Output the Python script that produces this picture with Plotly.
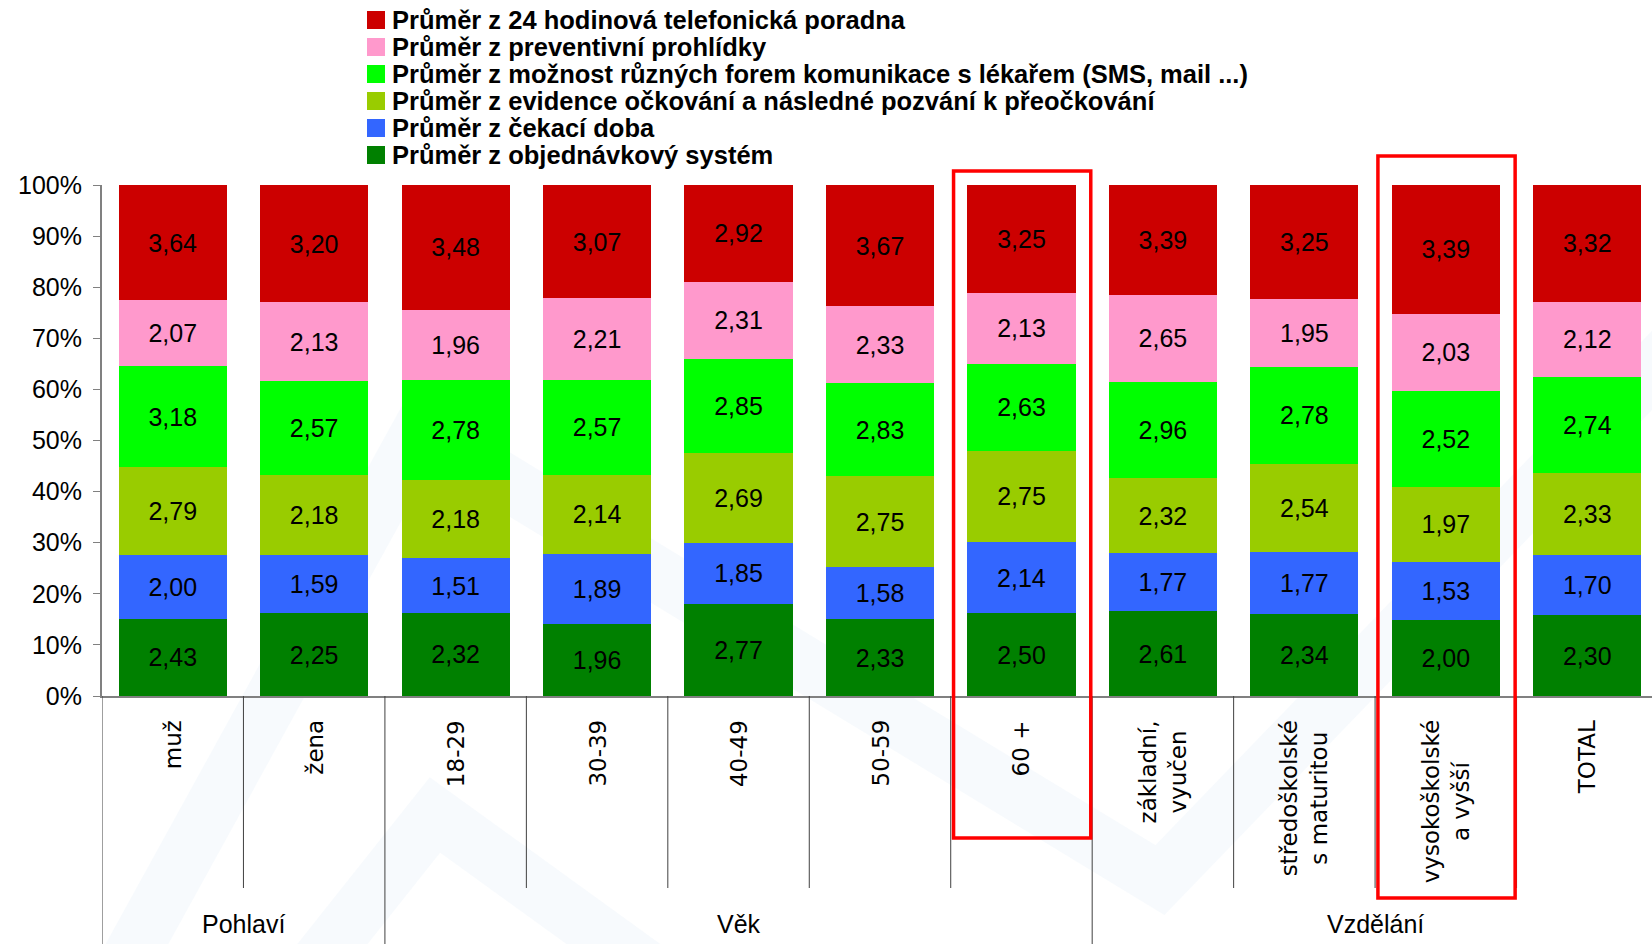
import plotly.graph_objects as go

# ---------------- data ----------------
categories = ["muž", "žena", "18-29", "30-39", "40-49", "50-59", "60 +",
              "základní,<br>vyučen", "středoškolské<br>s maturitou",
              "vysokoškolské<br>a vyšší", "TOTAL"]
groups = ["Pohlaví", "Věk", "Vzdělání"]
group_sizes = [2, 5, 4]

series_names = [
    "Průměr z objednávkový systém",
    "Průměr z čekací doba",
    "Průměr z evidence očkování a následné pozvání k přeočkování",
    "Průměr z možnost různých forem komunikace s lékařem (SMS, mail ...)",
    "Průměr z preventivní prohlídky",
    "Průměr z 24 hodinová telefonická poradna",
]
objednavkovy_system = [2.43, 2.25, 2.32, 1.96, 2.77, 2.33, 2.50, 2.61, 2.34, 2.00, 2.30]
cekaci_doba = [2.00, 1.59, 1.51, 1.89, 1.85, 1.58, 2.14, 1.77, 1.77, 1.53, 1.70]
evidence_ockovani = [2.79, 2.18, 2.18, 2.14, 2.69, 2.75, 2.75, 2.32, 2.54, 1.97, 2.33]
formy_komunikace = [3.18, 2.57, 2.78, 2.57, 2.85, 2.83, 2.63, 2.96, 2.78, 2.52, 2.74]
preventivni_prohlidky = [2.07, 2.13, 1.96, 2.21, 2.31, 2.33, 2.13, 2.65, 1.95, 2.03, 2.12]
telefonicka_poradna = [3.64, 3.20, 3.48, 3.07, 2.92, 3.67, 3.25, 3.39, 3.25, 3.39, 3.32]
series_values = [objednavkovy_system, cekaci_doba, evidence_ockovani,
                 formy_komunikace, preventivni_prohlidky, telefonicka_poradna]
colors = ["#008000", "#3366FF", "#99CC00", "#00FF00", "#FF99CC", "#CC0000"]

y_ticks = list(range(0, 101, 10))
highlighted = ["60 +", "vysokoškolské<br>a vyšší"]

# ---------------- geometry ----------------
W, H = 1658, 944
L, R, T, B = 102, 0, 185, 248
PW, PH = W - L - R, H - T - B


def px(xp):
    return (xp - L) / PW


def py(yp):
    return (H - B - yp) / PH


FONT = "Liberation Sans, Arial, sans-serif"

fig = go.Figure()
for name, vals, col in zip(series_names, series_values, colors):
    fig.add_trace(go.Bar(
        x=categories, y=vals, name=name,
        marker=dict(color=col, line=dict(width=0)),
        text=[f"{v:.2f}".replace(".", ",") for v in vals],
        textposition="inside", insidetextanchor="middle",
        constraintext="none",
        textfont=dict(family=FONT, size=25, color="black"),
        hoverinfo="skip", showlegend=False,
    ))

shapes = []
annotations = []

# faint watermark
wm = "rgba(228,237,248,0.28)"
for pts in [[(40, 1120), (420, 430), (1160, 880), (1720, 300)],
            [(280, 1010), (435, 815), (760, 1050)]]:
    path = "M " + " L ".join(f"{px(a):.4f},{py(b):.4f}" for a, b in pts)
    shapes.append(dict(type="path", path=path, xref="paper", yref="paper",
                       line=dict(color=wm, width=55), layer="below"))

# category / group separators below the axis
n = len(categories)
group_bounds = [-0.5]
acc = -0.5
for s in group_sizes:
    acc += s
    group_bounds.append(acc)
for i in range(n):
    b = i - 0.5
    if b in group_bounds:
        y0 = py(H)
    else:
        y0 = py(888)
    shapes.append(dict(type="line", xref="x", yref="paper", x0=b, x1=b,
                       y0=y0, y1=0, line=dict(color="#404040", width=1)))

# red highlight rectangles
rect_y = {"60 +": (838, 171), "vysokoškolské<br>a vyšší": (898, 156)}
for c in highlighted:
    i = categories.index(c)
    yb, yt = rect_y[c]
    shapes.append(dict(type="rect", xref="x", yref="paper",
                       x0=i - 0.48, x1=i + 0.49, y0=py(yb), y1=py(yt),
                       line=dict(color="#FF0000", width=3.5),
                       fillcolor="rgba(0,0,0,0)", layer="above"))

# category labels (rotated)
for c in categories:
    annotations.append(dict(x=c, xref="x", y=py(718), yref="paper",
                            text=c, textangle=-90, showarrow=False,
                            xanchor="center", yanchor="top", align="center",
                            font=dict(family="DejaVu Sans, sans-serif", size=23,
                                      color="black")))

# group labels
start = 0
for g, s in zip(groups, group_sizes):
    center = start + (s - 1) / 2
    annotations.append(dict(x=center, xref="x", y=py(924), yref="paper",
                            text=g, showarrow=False, xanchor="center",
                            yanchor="middle",
                            font=dict(family=FONT, size=25, color="black")))
    start += s

# manual legend (top item = last series)
for k, (name, col) in enumerate(zip(reversed(series_names), reversed(colors))):
    yc = 20 + k * 27
    shapes.append(dict(type="rect", xref="paper", yref="paper",
                       x0=px(367), x1=px(385), y0=py(yc + 9), y1=py(yc - 9),
                       fillcolor=col, line=dict(width=0)))
    annotations.append(dict(x=px(390), xref="paper", y=py(yc), yref="paper",
                            text=f"<b>{name}</b>", showarrow=False,
                            xanchor="left", yanchor="middle",
                            font=dict(family=FONT, size=25.5, color="black")))

fig.update_layout(
    width=W, height=H,
    margin=dict(l=L, r=R, t=T, b=B, pad=0),
    barmode="stack", barnorm="percent", bargap=0.235,
    paper_bgcolor="white", plot_bgcolor="rgba(0,0,0,0)",
    showlegend=False,
    shapes=shapes, annotations=annotations,
    xaxis=dict(showticklabels=False, ticks="", showgrid=False,
               showline=True, linecolor="#808080", linewidth=2,
               range=[-0.5, n - 0.5], zeroline=False, fixedrange=True),
    yaxis=dict(range=[0, 100], tickvals=y_ticks,
               ticktext=[f"{v}%" for v in y_ticks],
               ticks="outside", ticklen=7, tickcolor="#808080",
               showline=True, linecolor="#808080", linewidth=2,
               showgrid=False, zeroline=False,
               tickfont=dict(family=FONT, size=25, color="black"),
               ticklabelstandoff=6),
    font=dict(family=FONT, color="black"),
)

fig.write_html("out.html",
               config={"displayModeBar": False},
               post_script="document.body.style.margin='0';document.body.style.overflow='hidden';")
